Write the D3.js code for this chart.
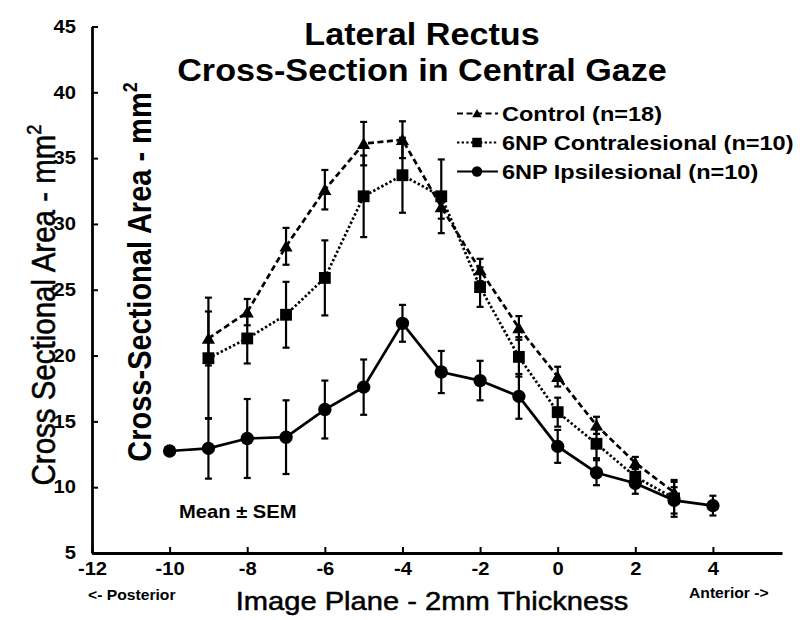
<!DOCTYPE html>
<html><head><meta charset="utf-8">
<script src="https://cdn.jsdelivr.net/npm/d3@7"></script>
<style>
body{margin:0;background:#fff}
svg{display:block}
text{font-family:"Liberation Sans",Arial,Helvetica,sans-serif;fill:#000}
</style></head>
<body><svg id="c" width="800" height="620"></svg>
<script>
// ---- data ----
const planes = [-10,-9,-8,-7,-6,-5,-4,-3,-2,-1,0,1,2,3,4];
const controlMean = [null,21.3,23.3,28.3,32.6,36.1,36.4,31.3,26.5,22.1,18.4,14.7,11.85,9.6,null];
const controlSem  = [null,2.05,1.0,1.4,1.5,1.65,1.4,0.9,0.85,0.9,0.75,0.65,0.45,0.8,null];
const contraMean  = [null,19.8,21.3,23.1,25.9,32.1,33.7,32.1,25.2,19.9,15.7,13.3,10.8,9.15,null];
const contraSem   = [null,4.6,1.9,2.5,2.85,3.1,2.85,2.8,1.5,1.5,1.1,1.1,0.6,1.4,null];
const ipsiMean    = [12.75,12.95,13.7,13.8,15.9,17.6,22.45,18.75,18.1,16.9,13.1,11.1,10.3,9.0,8.6];
const ipsiSem     = [null,2.3,3.0,2.8,2.2,2.1,1.4,1.6,1.5,1.7,1.25,0.95,0.8,1.0,0.75];
const seriesNames = ["Control (n=18)","6NP Contralesional (n=10)","6NP Ipsilesional (n=10)"];
const xTicks = [-12,-10,-8,-6,-4,-2,0,2,4];
const yTicks = [5,10,15,20,25,30,35,40,45];
const titleLines = ["Lateral Rectus","Cross-Section in Central Gaze"];
const xTitle = "Image Plane - 2mm Thickness";
const yTitle1 = "Cross Sectional Area - mm";
const yTitle2 = "Cross-Sectional Area - mm";

const SX = 1.12; // horizontal stretch of the original lettering
const svg = d3.select("#c");
const x = d3.scaleLinear().domain([-12, 5.78]).range([92, 782]);
const y = d3.scaleLinear().domain([5, 45]).range([553, 26.5]);

function stext(g, tx, ty, str, size, weight, anchor){
  return g.append("text")
    .attr("transform", `translate(${tx},${ty}) scale(${SX},1)`)
    .attr("text-anchor", anchor||"middle")
    .style("font-size", size+"px").style("font-weight", weight||"bold")
    .text(str);
}

// axes
const fmt = d => String(d);
const xAxis = d3.axisBottom(x).tickValues(xTicks).tickSizeInner(-6).tickSizeOuter(0).tickPadding(9).tickFormat(fmt);
const gx = svg.append("g").attr("transform","translate(0,553)").call(xAxis);
gx.select(".domain").attr("stroke","#000").attr("stroke-width",2.8);
gx.selectAll(".tick line").attr("stroke","#000").attr("stroke-width",2);
gx.selectAll(".tick text").attr("transform",`scale(${SX},1)`).attr("dy","0.72em")
  .style("font-size","18px").style("font-weight","bold").style("font-family",'"Liberation Sans",Arial,sans-serif');

const yAxis = d3.axisLeft(y).tickValues(yTicks).tickSizeInner(-6).tickSizeOuter(0).tickPadding(17).tickFormat(fmt);
const gy = svg.append("g").attr("transform","translate(92,0)").call(yAxis);
gy.select(".domain").attr("stroke","#000").attr("stroke-width",2.8);
gy.selectAll(".tick line").attr("stroke","#000").attr("stroke-width",2);
gy.selectAll(".tick text").attr("x",-16/SX).attr("transform",`scale(${SX},1)`)
  .style("font-size","18px").style("font-weight","bold").style("font-family",'"Liberation Sans",Arial,sans-serif');

// series
const series = [
  {mean:controlMean, sem:controlSem, dash:"6,3.5", marker:"triangle"},
  {mean:contraMean, sem:contraSem, dash:"2.4,2.2", marker:"square"},
  {mean:ipsiMean, sem:ipsiSem, dash:null, marker:"circle"}
];
const plot = svg.append("g");
series.forEach(s=>{
  const pts = planes.map((p,i)=>({p, m:s.mean[i], e:s.sem[i]})).filter(d=>d.m!=null);
  const line = d3.line().x(d=>x(d.p)).y(d=>y(d.m));
  plot.append("path").datum(pts).attr("d",line).attr("fill","none").attr("stroke","#000")
    .attr("stroke-width",2.7).attr("stroke-dasharray",s.dash);
});
series.forEach(s=>{
  const pts = planes.map((p,i)=>({p, m:s.mean[i], e:s.sem[i]})).filter(d=>d.m!=null && d.e!=null);
  const g = plot.append("g").attr("stroke","#000").attr("stroke-width",2.2);
  g.selectAll("line.v").data(pts).join("line").attr("x1",d=>x(d.p)).attr("x2",d=>x(d.p))
    .attr("y1",d=>y(d.m-d.e)).attr("y2",d=>y(d.m+d.e));
  g.selectAll("line.t").data(pts).join("line").attr("x1",d=>x(d.p)-3.5).attr("x2",d=>x(d.p)+3.5)
    .attr("y1",d=>y(d.m+d.e)).attr("y2",d=>y(d.m+d.e));
  g.selectAll("line.b").data(pts).join("line").attr("x1",d=>x(d.p)-3.5).attr("x2",d=>x(d.p)+3.5)
    .attr("y1",d=>y(d.m-d.e)).attr("y2",d=>y(d.m-d.e));
});
const sym = {triangle:d3.symbol(d3.symbolTriangle,75), square:d3.symbol(d3.symbolSquare,140), circle:d3.symbol(d3.symbolCircle,140)};
series.forEach(s=>{
  const pts = planes.map((p,i)=>({p, m:s.mean[i]})).filter(d=>d.m!=null);
  plot.append("g").selectAll("path").data(pts).join("path")
    .attr("transform",d=>`translate(${x(d.p)},${y(d.m)+(s.marker==="triangle"?1.5:0)})`)
    .attr("d",sym[s.marker]()).attr("fill","#000");
});

// legend
const lsym = {triangle:d3.symbol(d3.symbolTriangle,40), square:d3.symbol(d3.symbolSquare,90), circle:d3.symbol(d3.symbolCircle,85)};
const leg = svg.append("g");
series.forEach((s,i)=>{
  const ly = 113.5 + i*29;
  leg.append("line").attr("x1",457).attr("x2",498).attr("y1",ly).attr("y2",ly)
    .attr("stroke","#000").attr("stroke-width",2.2).attr("stroke-dasharray",s.dash);
  leg.append("path").attr("transform",`translate(477,${ly+(s.marker==="triangle"?1:0)})`).attr("d",lsym[s.marker]()).attr("fill","#000");
  stext(leg, 502, ly+7.5, seriesNames[i], 21, "bold", "start");
});

// titles
stext(svg, 422, 45, titleLines[0], 30.5, "bold");
stext(svg, 422, 81, titleLines[1], 30.5, "bold");

// x-axis title + annotations
stext(svg, 432, 610, xTitle, 26, "normal").style("stroke","#000").style("stroke-width",0.5);
stext(svg, 88, 600, "<- Posterior", 14, "bold", "start");
stext(svg, 689, 598, "Anterior ->", 14, "bold", "start");
stext(svg, 179, 518, "Mean \u00b1 SEM", 18, "bold", "start");

// y-axis titles (rotated)
function ytitle(tx, cy, str, size, weight){
  const t = svg.append("text")
    .attr("transform",`translate(${tx},${cy}) scale(${SX},1) rotate(-90)`)
    .attr("text-anchor","middle").style("font-size",size+"px").style("font-weight",weight);
  t.append("tspan").text(str);
  t.append("tspan").attr("dy",-size*0.42).style("font-size",(size*0.62)+"px").text("2");
  return t;
}
ytitle(55, 305, yTitle1, 29.5, "normal").style("stroke","#000").style("stroke-width",0.5);
ytitle(151, 272, yTitle2, 29, "bold");
</script></body></html>
